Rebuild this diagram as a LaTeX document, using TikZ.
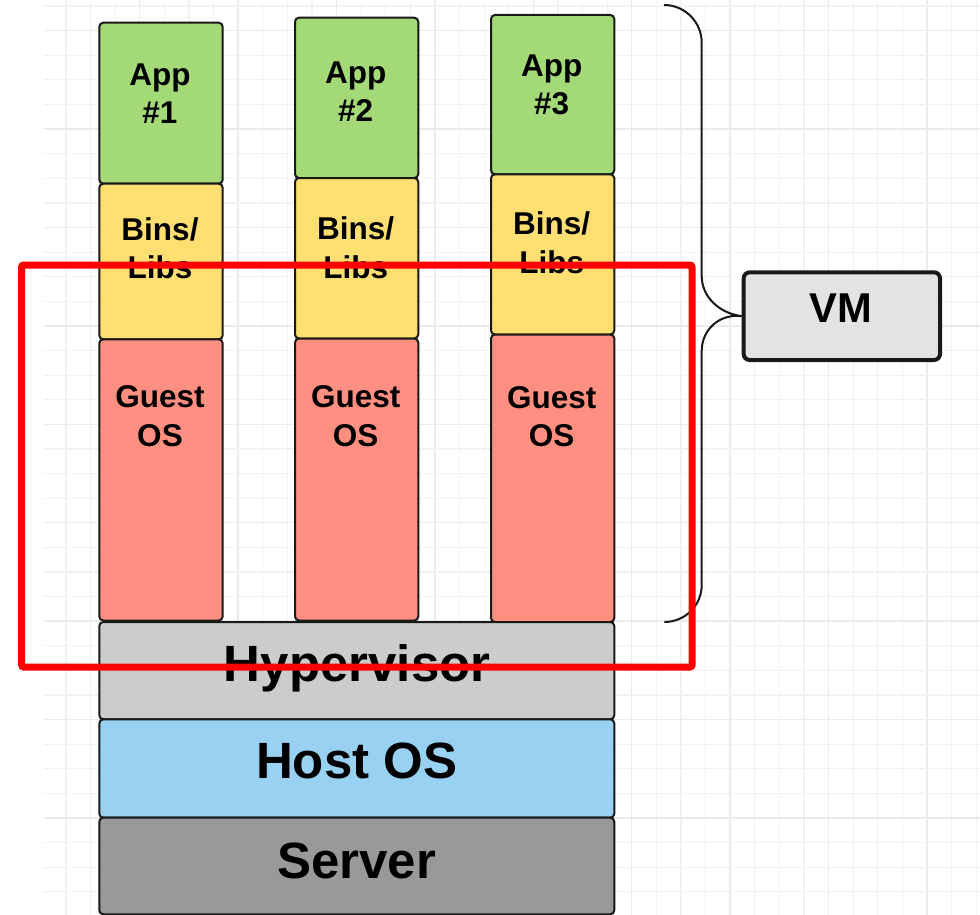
\documentclass[tikz,border=0pt]{standalone}
\usepackage{fontspec}
\setmainfont{Liberation Sans}
\begin{document}
\begin{tikzpicture}[x=1pt,y=-1pt,
  box/.style={draw=black!90,line width=2pt,rounded corners=4pt,inner sep=0pt,anchor=north west},
  small/.style={font=\bfseries\fontsize{31.5}{38.4}\selectfont,align=center,anchor=base,inner sep=0pt},
  big/.style={font=\bfseries\fontsize{51}{60}\selectfont,anchor=base,inner sep=0pt},
  minorgrid/.style={draw=black!5,line width=1.2pt},
  majorgrid/.style={draw=black!8,line width=1.3pt}]
\useasboundingbox (0,0) rectangle (980,915);
\fill[white] (0,0) rectangle (980,915);
% grid
\foreach \k in {0,...,37} {
  \pgfmathsetmacro{\gx}{65.9+24.6*\k}
  \pgfmathtruncatemacro{\m}{mod(\k,4)}
  \ifnum\m=3 \draw[majorgrid] (\gx,0) -- (\gx,915); \else \draw[minorgrid] (\gx,0) -- (\gx,915); \fi
}
\foreach \k in {0,...,37} {
  \pgfmathsetmacro{\gy}{6.1+24.6*\k}
  \pgfmathtruncatemacro{\m}{mod(\k,4)}
  \ifnum\m=1 \draw[majorgrid] (44,\gy) -- (980,\gy); \else \draw[minorgrid] (44,\gy) -- (980,\gy); \fi
}
% colours
\definecolor{appc}{HTML}{A3D977}
\definecolor{binc}{HTML}{FFDF71}
\definecolor{gosc}{HTML}{FF8F80}
\definecolor{hypc}{HTML}{CCCCCC}
\definecolor{hosc}{HTML}{99D1F2}
\definecolor{srvc}{HTML}{999999}
\definecolor{vmc}{HTML}{E3E3E3}
% column 1
\node[box,fill=appc,minimum width=123.4pt,minimum height=161pt] (app1) at (98.3,21.7) {};
\node[box,fill=binc,minimum width=123.4pt,minimum height=155.6pt] (bin1) at (98.3,182.7) {};
\node[box,fill=gosc,minimum width=123.4pt,minimum height=281.2pt] (gos1) at (98.3,338.3) {};
% column 2
\node[box,fill=appc,minimum width=123.3pt,minimum height=160.3pt] (app2) at (294,16.7) {};
\node[box,fill=binc,minimum width=123.3pt,minimum height=160.5pt] (bin2) at (294,177) {};
\node[box,fill=gosc,minimum width=123.3pt,minimum height=282pt] (gos2) at (294,337.5) {};
% column 3
\node[box,fill=appc,minimum width=123.3pt,minimum height=159.3pt] (app3) at (490,14) {};
\node[box,fill=binc,minimum width=123.3pt,minimum height=160.2pt] (bin3) at (490,173.3) {};
\node[box,fill=gosc,minimum width=123.3pt,minimum height=287.5pt] (gos3) at (490,333.5) {};
% base layers
\node[box,fill=hypc,minimum width=515pt,minimum height=97.3pt] (hyp) at (98.3,621) {};
\node[box,fill=hosc,minimum width=515pt,minimum height=98.4pt] (hos) at (98.3,718.3) {};
\node[box,fill=srvc,minimum width=515pt,minimum height=96.6pt] (srv) at (98.3,816.7) {};
% texts (base = baseline of last line)
\node[small] (t-app1) at (160,124) {App\\\#1};
\node[small] (t-app2) at (355.7,121.7) {App\\\#2};
\node[small] (t-app3) at (551.7,115) {App\\\#3};
\node[small] (t-bin1) at (160,278.5) {Bins/\\Libs};
\node[small] (t-bin2) at (355.7,278) {Bins/\\Libs};
\node[small] (t-bin3) at (551.7,273.3) {Bins/\\Libs};
\node[small] (t-gos1) at (160,446) {Guest\\OS};
\node[small] (t-gos2) at (355.7,446) {Guest\\OS};
\node[small] (t-gos3) at (551.7,446.5) {Guest\\OS};
\node[big] (t-hyp) at (357.2,681.7) {Hypervisor};
\node[big] (t-hos) at (356.7,778.3) {Host OS};
\node[big] (t-srv) at (356.7,878.3) {Server};
% VM box and brace
\node[draw=black!90,line width=4pt,rounded corners=6pt,fill=vmc,minimum width=196.3pt,minimum height=87.7pt,inner sep=0pt,anchor=north west] (vm) at (741.7,270.3) {};
\node[font=\bfseries\fontsize{41.7}{50}\selectfont,anchor=base,inner sep=0pt] (t-vm) at (840.5,322.7) {VM};
\coordinate (btop) at (664,5);
\coordinate (bbot) at (664.3,622);
\draw[line width=2pt,black!90] (btop) .. controls (684.8,5) and (701.7,21.9) .. (701.7,42.7) -- (701.7,276)
  .. controls (701.7,296.8) and (719.2,313.3) .. (vm.west)
  .. controls (719.2,313.3) and (701.7,330) .. (701.7,351) -- (701.7,585)
  .. controls (701.7,605.5) and (685,622) .. (bbot);
% red frame
\draw[red,line width=7pt,rounded corners=2pt] (21.7,265) rectangle (692,667);
\end{tikzpicture}
\end{document}
